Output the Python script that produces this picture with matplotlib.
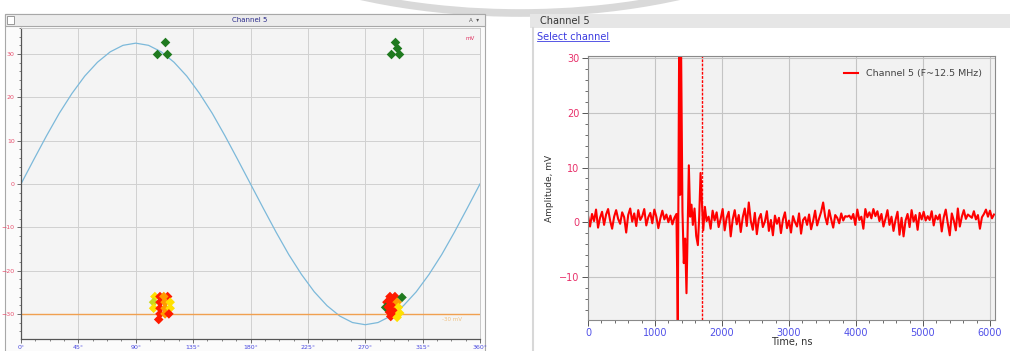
import numpy as np
import matplotlib
matplotlib.use("Agg")
import matplotlib.pyplot as plt
from matplotlib.patches import Rectangle, Ellipse
from matplotlib.ticker import MultipleLocator

# ---------------- data: left panel ----------------
sine_deg = list(range(0, 361, 10))
sine_val = [0, 5.6, 11.1, 16.3, 20.9, 24.9, 28.1, 30.5, 32.0, 32.5, 32.0, 30.5, 28.1, 24.9,
            20.9, 16.3, 11.1, 5.6, 0, -5.6, -11.1, -16.3, -20.9, -24.9, -28.1, -30.5, -32.0,
            -32.5, -32.0, -30.5, -28.1, -24.9, -20.9, -16.3, -11.1, -5.6, 0]
threshold = -30
green_deg = [106.7, 113.0, 114.5, 293.3, 295.0, 290.0, 296.5]
green_val = [30.1, 32.8, 30.0, 32.8, 31.4, 30.0, 30.0]
cl_deg = [105, 109, 115, 112, 104, 109, 113, 117, 104, 109, 113, 117, 109, 113, 116, 108,
          289.4, 293.3, 298.8, 287, 291, 295, 286, 288, 292, 296, 289, 293, 297, 290, 295]
cl_val = [-26.0, -26.0, -26.0, -26.0, -27.3, -27.3, -27.3, -27.3, -28.7, -28.7, -28.7, -28.7,
          -30.0, -30.0, -30.0, -31.3,
          -26.0, -26.0, -26.2, -27.3, -27.3, -27.3, -28.5, -28.4, -28.5, -28.5, -29.6, -29.6,
          -29.8, -30.6, -30.8]
cl_cat = ['y', 'r', 'r', 'o', 'g2', 'r', 'o', 'y', 'y', 'r', 'o', 'y', 'r', 'o', 'r', 'r',
          'r', 'r', 'g', 'r', 'r', 'o', 'g', 'r', 'r', 'y', 'r', 'r', 'y', 'r', 'y']
deg_ticks = [0, 45, 90, 135, 180, 225, 270, 315, 360]
deg_labels = ['0°', '45°', '90°', '135°', '180°', '225°', '270°', '315°', '360°']

# ---------------- data: right panel ----------------
noise_before = [1.2, -0.8, 1.5, 0.2, 2.3, -1.0, 0.8, 1.9, -0.5, 1.4, 2.4, 0.3, -1.2, 1.0, 2.2,
                0.6, -0.3, 1.8, 0.9, -1.9, 1.3, 2.5, 0.1, 1.6, -0.7, 2.2, 0.4, 1.1, 2.4, -0.6,
                0.9, 1.7, -0.2, 2.3, 1.0, -1.1, 0.7, 2.1, 0.5, 1.4, 0.0, 1.2, -0.4, 0.8]
burst_t = [1320, 1340, 1360, 1375, 1390, 1410, 1430, 1450, 1470, 1490, 1505, 1525, 1545,
           1565, 1590, 1615, 1640, 1660, 1680, 1700, 1720, 1745, 1770]
burst_v = [1.5, -18.5, 31, 5, 31, 2, -7.5, -3, -13, 0, 10.4, 1, 3.2, -0.5, 2.5, -2.5, -4.2,
           1, 9, 3.8, -1.5, 2.8, 0.2]
noise_after = [1.0, -1.2, 2.1, 0.3, 1.8, -0.9, 0.6, 2.4, -1.5, 0.8,
               1.9, -2.6, 0.5, 2.2, -0.4, 1.3, -1.8, 0.9, 2.5, -0.7,
               3.6, 0.2, -1.4, 1.7, -2.2, 0.6, 1.5, -0.9, 0.1, 2.0,
               -1.6, 0.4, -2.4, 1.2, -0.3, 0.8, -2.0, 0.5, 1.8, -1.1,
               0.3, -1.9, 1.1, 0.0, -0.8, 1.6, -2.1, 0.4, 0.9, -0.5,
               1.4, -1.3, 0.2, 2.1, -0.6, 0.7, 1.9, 3.6, 1.0, -0.4,
               2.2, 0.5, -1.0, 1.3, 0.8, -0.2, 1.6, 0.3, 1.1, 1.0,
               1.2, 0.6, 1.5, -0.5, 2.3, 0.4, 1.0, -1.2, 2.4, 0.9,
               1.8, 0.7, 2.4, 1.1, 2.0, 0.2, 1.5, -0.8, 0.6, 2.2,
               -0.5, 1.0, -1.6, 0.4, 1.9, -2.3, 0.8, -2.6, 0.3, 1.5,
               -0.9, 2.2, 0.1, 1.3, -1.4, 1.7, 0.5, 1.9, 0.3, 1.1,
               0.4, 2.0, -0.6, 1.2, 0.5, 1.4, -1.7, 0.9, 2.3, -0.2,
               -2.4, 1.6, 0.3, -1.5, 2.5, -0.8, 1.0, 2.2, 0.6, 1.4,
               1.1, 0.8, 2.0, 0.5, 1.3, -1.2, 0.9, 1.5, 2.3, 1.0,
               2.1, 0.7, 1.4]
marker_time = 1700
time_ticks = [0, 1000, 2000, 3000, 4000, 5000, 6000]
amp_ticks = [-10, 0, 10, 20, 30]

colmap = {'r': '#ff1a00', 'o': '#ff9a00', 'y': '#ffe000', 'g': '#1f7a1f', 'g2': '#c8d820'}

W, H = 1010, 351
fig = plt.figure(figsize=(W / 100, H / 100), dpi=100)
fig.patch.set_facecolor('white')

# overlay for window chrome, pixel coordinates
ov = fig.add_axes([0, 0, 1, 1], zorder=0)
ov.set_xlim(0, W)
ov.set_ylim(H, 0)
ov.axis('off')
ov.add_patch(Ellipse((520, -140), 700, 306, fill=False, edgecolor='#d9d9d9', lw=5.5))
# left window
ov.add_patch(Rectangle((5, 14), 480, 340, facecolor='#fbfbfb', edgecolor='#a8a8a8', lw=0.8))
ov.add_patch(Rectangle((5, 14), 480, 12, facecolor='#ececec', edgecolor='#a8a8a8', lw=0.8))
ov.add_patch(Rectangle((7, 16), 7, 8, facecolor='white', edgecolor='#8a8a8a', lw=0.6))
ov.text(250, 20.5, 'Channel 5', fontsize=5, color='#2a2a8a', ha='center', va='center')
ov.text(474, 20.5, 'A  ▾', fontsize=4, color='#555555', ha='center', va='center')
# right window
ov.add_patch(Rectangle((530, 14), 480, 14, facecolor='#e6e6e6', edgecolor='none'))
ov.plot([533, 533], [28, 351], color='#d8d8d8', lw=1.5)
ov.text(540, 21, 'Channel 5', fontsize=7, color='#333333', ha='left', va='center')
ov.text(537, 36.5, 'Select channel', fontsize=7, color='#3a3ae0', ha='left', va='center')
ov.plot([537, 609], [41, 41], color='#3a3ae0', lw=0.6)

# ---------------- left axes ----------------
ax1 = fig.add_axes([21 / W, (H - 339) / H, 459 / W, 311 / H], zorder=1)
ax1.set_facecolor('#f4f4f4')
ax1.set_xlim(0, 360)
ax1.set_ylim(-35.8, 36.0)
ax1.grid(True, color='#d0d0d0', lw=0.7)
ax1.set_axisbelow(True)
ax1.plot(sine_deg, sine_val, color='#7cb9da', lw=0.9)
ax1.axhline(threshold, color='#f0a050', lw=1.0)
ax1.scatter(green_deg, green_val, marker='D', s=24, color=colmap['g'], zorder=4, linewidths=0)
ax1.scatter(cl_deg, cl_val, marker='D', s=24, c=[colmap[c] for c in cl_cat], zorder=4, linewidths=0)
ax1.text(356, 33.5, 'mV', fontsize=4, color='#e03060', ha='right', va='center')
ax1.text(346, -31.2, '-30 mV', fontsize=4, color='#f0c080', ha='right', va='center')
ax1.set_xticks(deg_ticks)
ax1.set_xticklabels(deg_labels)
ax1.set_yticks([-30, -20, -10, 0, 10, 20, 30])
ax1.xaxis.set_minor_locator(MultipleLocator(11.25))
ax1.yaxis.set_minor_locator(MultipleLocator(2))
ax1.tick_params(axis='x', labelsize=4.5, labelcolor='#4a4ae0', length=3, width=0.6, pad=1.5, color='#555555')
ax1.tick_params(axis='y', labelsize=4.5, labelcolor='#e8506e', length=3, width=0.6, pad=1.5, color='#555555')
ax1.tick_params(which='minor', length=1.5, width=0.5, color='#555555')
for s in ['left', 'bottom']:
    ax1.spines[s].set_color('#555555')
    ax1.spines[s].set_linewidth(0.9)
for s in ['top', 'right']:
    ax1.spines[s].set_color('#c8c8c8')
    ax1.spines[s].set_linewidth(0.7)

# ---------------- right axes ----------------
t_before = 30 * np.arange(len(noise_before))
t_after = 1800 + 30 * np.arange(len(noise_after))
t_all = np.concatenate([t_before, burst_t, t_after])
v_all = np.concatenate([noise_before, burst_v, noise_after])

ax2 = fig.add_axes([588 / W, (H - 320) / H, 407 / W, 264 / H], zorder=1)
ax2.set_facecolor('#f2f2f2')
ax2.set_xlim(0, 6075)
ax2.set_ylim(-17.9, 30.4)
ax2.grid(True, color='#c4c4c4', lw=0.8)
ax2.set_axisbelow(True)
ax2.plot(t_all, v_all, color='#ff0000', lw=1.5, label='Channel 5 (F~12.5 MHz)')
ax2.axvline(marker_time, color='#ff0000', lw=1.0, ls=(0, (2, 1)))
ax2.set_xticks(time_ticks)
ax2.set_yticks(amp_ticks)
ax2.xaxis.set_minor_locator(MultipleLocator(200))
ax2.yaxis.set_minor_locator(MultipleLocator(2))
ax2.tick_params(axis='x', labelsize=7, labelcolor='#5050e8', length=4, width=0.7, pad=2, color='#555555')
ax2.tick_params(axis='y', labelsize=7, labelcolor='#e8306a', length=4, width=0.7, pad=2, color='#555555')
ax2.tick_params(which='minor', length=2, width=0.6, color='#555555')
for s in ax2.spines.values():
    s.set_color('#8a8a8a')
    s.set_linewidth(0.8)
ax2.set_xlabel('Time, ns', fontsize=7, color='#333333', labelpad=-1)
ax2.set_ylabel('Amplitude, mV', fontsize=6.5, color='#333333', labelpad=4)
leg = ax2.legend(loc='upper right', frameon=False, fontsize=6.8, handlelength=1.5,
                 borderaxespad=1.0)
for txt in leg.get_texts():
    txt.set_color('#444444')

fig.savefig('out.png', dpi=100)
